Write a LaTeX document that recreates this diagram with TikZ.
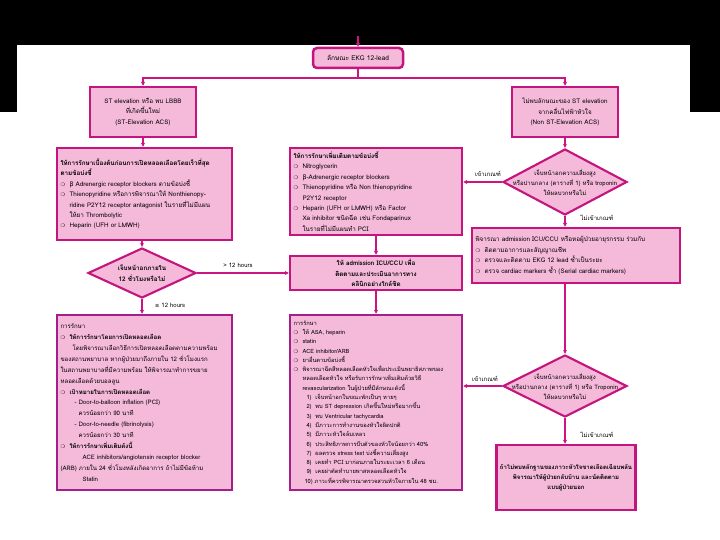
\documentclass[tikz,border=0pt]{standalone}
\usepackage{fontspec}
\setmainfont{Loma}[Script=Thai]
\newfontfamily\symf{DejaVu Sans}
\usetikzlibrary{shapes.geometric,arrows.meta}
\definecolor{boxfill}{HTML}{F5B9DA}
\definecolor{boxline}{HTML}{C4147E}
\definecolor{bigline}{HTML}{A3208A}
\definecolor{linec}{HTML}{CC1580}
\newcommand{\bul}{\makebox[9pt][l]{\symf\fontsize{5}{5}\selectfont ❍}}
\newcommand{\ind}{\hspace*{9pt}}
\newcommand{\fsA}{\fontsize{6.3}{10.4}\selectfont}
\newcommand{\fsD}{\fontsize{6}{10}\selectfont}
\newcommand{\fsB}{\fontsize{5.75}{9.3}\selectfont}
\tikzset{
 box/.style={draw=boxline, line width=2.5pt, fill=boxfill, inner xsep=3.5pt, inner ysep=2pt},
 cbox/.style={box, align=center, font=\fsA},
 lbox/.style={box, align=left},
 dia/.style={diamond, draw=boxline, line width=2.1pt, fill=boxfill, inner sep=0pt},
 conn/.style={draw=linec, line width=1.5pt, -{Stealth[length=4pt,width=4pt]}},
 plain/.style={draw=linec, line width=1.5pt},
 lab/.style={font=\fsD, inner sep=1pt},
}
\begin{document}
\begin{tikzpicture}[x=1pt,y=-1pt]
\useasboundingbox (0,0) rectangle (720,540);
\fill[white] (0,0) rectangle (720,540);
\fill[black] (0,0) rectangle (720,45);
\fill[black] (0,45) rectangle (17,112);
\fill[black] (690,45) rectangle (720,112);

% top
\node[box, rounded corners=4pt, minimum width=90, minimum height=20, font=\fontsize{6.6}{8}\selectfont] (top) at (358,58) {ลักษณะ EKG 12-lead};
\coordinate (topin) at (358,36);
\draw[conn] (topin) -- (top.north);

\node[cbox, minimum width=106, minimum height=50] (st) at (143,112) {ST elevation หรือ พบ LBBB\\ที่เกิดขึ้นใหม่\\(ST-Elevation ACS)};
\node[cbox, minimum width=106, minimum height=50] (nst) at (565,112) {ไม่พบลักษณะของ ST elevation\\จากคลื่นไฟฟ้าหัวใจ\\(Non ST-Elevation ACS)};
\coordinate (split) at (358,78);
\draw[plain] (top.south) -- (split);
\draw[conn] (split) -| (st.north);
\draw[conn] (split) -| (nst.north);

% left column
\node[lbox, font=\fsA, minimum width=175, minimum height=92, text width=168] (tx1) at (144.5,194) {%
\textbf{ให้การรักษาเบื้องต้นก่อนการเปิดหลอดเลือดโดยเร็วที่สุด}\\
\textbf{ตามข้อบ่งชี้}\\
\bul{\symf β} Adrenergic receptor blockers ตามข้อบ่งชี้\\
\bul Thienopyridine หรือการพิจารณาให้ Nonthienopy-\\
\ind ridine P2Y12 receptor antagonist ในรายที่ไม่มีแผน\\
\ind ให้ยา Thrombolytic\\
\bul Heparin (UFH or LMWH)};
\draw[conn] (st.south) -- (st.south |- tx1.north);

\node[dia, minimum width=108, minimum height=50] (d1) at (142,273) {};
\node[font=\fsA\bfseries, align=center, inner sep=0pt] (d1t) at (d1) {เจ็บหน้าอกภายใน\\12 ชั่วโมงหรือไม่};
\draw[conn] (tx1.south -| d1.north) -- (d1.north);

\node[lbox, draw=bigline, font=\fontsize{6.1}{10.9}\selectfont, minimum width=175, minimum height=175, text width=168] (tx2) at (144.5,402.5) {%
การรักษา\\
\bul\textbf{ให้การรักษาโดยการเปิดหลอดเลือด}\\
\hspace*{12pt}โดยพิจารณาเลือกวิธีการเปิดหลอดเลือดตามความพร้อม\\
ของสถานพยาบาล หากผู้ป่วยมาถึงภายใน 12 ชั่วโมงแรก\\
ในสถานพยาบาลที่มีความพร้อม ให้พิจารณาทำการขยาย\\
หลอดเลือดด้วยบอลลูน\\
\bul\textbf{เป้าหมายในการเปิดหลอดเลือด}\\
\hspace*{14pt}- Door-to-balloon inflation (PCI)\\
\hspace*{18pt}ควรน้อยกว่า 90 นาที\\
\hspace*{14pt}- Door-to-needle (fibrinolysis)\\
\hspace*{18pt}ควรน้อยกว่า 30 นาที\\
\bul\textbf{ให้การรักษาเพิ่มเติมดังนี้}\\
\hspace*{22pt}ACE inhibitors/angiotensin receptor blocker\\
(ARB) ภายใน 24 ชั่วโมงหลังเกิดอาการ ถ้าไม่มีข้อห้าม\\
\hspace*{22pt}Statin};
\draw[conn] (d1.south) -- (d1.south |- tx2.north);
\node[lab] (l12b) at (170,305) {{\symf\fontsize{5.5}{6}\selectfont ≤} 12 hours};

% middle column
\node[lbox, font=\fsA, minimum width=172, minimum height=87, text width=165] (m1) at (376,191.5) {%
\textbf{ให้การรักษาเพิ่มเติมตามข้อบ่งชี้}\\
\bul Nitroglycerin\\
\bul{\symf β}-Adrenergic receptor blockers\\
\bul Thienopyridine หรือ Non thienopyridine\\
\ind P2Y12 receptor\\
\bul Heparin (UFH or LMWH) หรือ Factor\\
\ind Xa inhibitor ชนิดฉีด เช่น Fondaparinux\\
\ind ในรายที่ไม่มีแผนทำ PCI};

\node[cbox, font=\fsA\bfseries, minimum width=172, minimum height=34] (adm) at (376,273) {ให้ admission ICU/CCU เพื่อ\\ติดตามและประเมินอาการทาง\\คลินิกอย่างใกล้ชิด};
\draw[conn] (m1.south) -- (adm.north);
\draw[conn] (d1.east) -- (adm.west);
\node[lab] (l12a) at (238,265) {> 12 hours};

\node[lbox, draw=bigline, font=\fsB, minimum width=172, minimum height=175, text width=165] (m3) at (376,402.5) {%
การรักษา\\
\bul ให้ ASA, heparin\\
\bul statin\\
\bul ACE inhibitor/ARB\\
\bul ยาอื่นตามข้อบ่งชี้\\
\bul พิจารณาฉีดสีหลอดเลือดหัวใจเพื่อประเมินพยาธิสภาพของ\\
\ind หลอดเลือดหัวใจ หรือรับการรักษาเพิ่มเติมด้วยวิธี\\
\ind revascularization ในผู้ป่วยที่มีลักษณะดังนี้\\
\hspace*{13pt}1)\ \ เจ็บหน้าอกในขณะพักเป็นๆ หายๆ\\
\hspace*{13pt}2)\ \ พบ ST depression เกิดขึ้นใหม่หรือมากขึ้น\\
\hspace*{13pt}3)\ \ พบ Ventricular tachycardia\\
\hspace*{13pt}4)\ \ มีภาวะการทำงานของหัวใจผิดปกติ\\
\hspace*{13pt}5)\ \ มีภาวะหัวใจล้มเหลว\\
\hspace*{13pt}6)\ \ ประสิทธิภาพการบีบตัวของหัวใจน้อยกว่า 40\%\\
\hspace*{13pt}7)\ \ ผลตรวจ stress test บ่งชี้ความเสี่ยงสูง\\
\hspace*{13pt}8)\ \ เคยทำ PCI มาก่อนภายในระยะเวลา 6 เดือน\\
\hspace*{13pt}9)\ \ เคยผ่าตัดทำบายพาสหลอดเลือดหัวใจ\\
\hspace*{11pt}10) ภาวะที่ควรพิจารณาตรวจสวนหัวใจภายใน 48 ชม.};
\draw[conn] (adm.south) -- (m3.north);

% right column
\node[dia, minimum width=124, minimum height=66] (d2) at (565,182) {};
\node[font=\fsD, align=center, inner sep=0pt] (d2t) at (d2) {เจ็บหน้าอกความเสี่ยงสูง\\หรือปานกลาง (ตารางที่ 1) หรือ troponin\\ให้ผลบวกหรือไม่};
\draw[conn] (nst.south) -- (d2.north);
\draw[conn] (d2.west) -- (d2.west -| m1.east);
\node[lab] (lin1) at (488,174) {เข้าเกณฑ์};

\node[lbox, font=\fsA, minimum width=208, minimum height=55, text width=201] (r3) at (576,255.5) {%
พิจารณา admission ICU/CCU หรือหอผู้ป่วยอายุรกรรม ร่วมกับ\\
\bul ติดตามอาการและสัญญาณชีพ\\
\bul ตรวจและติดตาม EKG 12 lead ซ้ำเป็นระยะ\\
\bul ตรวจ cardiac markers ซ้ำ (Serial cardiac markers)};
\draw[conn] (d2.south) -- (d2.south |- r3.north);
\node[lab] (lout1) at (597,218) {ไม่เข้าเกณฑ์};

\node[dia, minimum width=124, minimum height=62] (d3) at (565,386) {};
\node[font=\fsD, align=center, inner sep=0pt] (d3t) at (d3) {เจ็บหน้าอกความเสี่ยงสูง\\หรือปานกลาง (ตารางที่ 1) หรือ Troponin\\ให้ผลบวกหรือไม่};
\draw[conn] (d3.north |- r3.south) -- (d3.north);
\draw[conn] (d3.west) -- (d3.west -| m3.east);
\node[lab] (lin2) at (485,379) {เข้าเกณฑ์};

\node[cbox, font=\fsD\bfseries, minimum width=138, minimum height=65] (r4) at (566,477.5) {ถ้าไม่พบหลักฐานของภาวะหัวใจขาดเลือดเฉียบพลัน\\พิจารณาให้ผู้ป่วยกลับบ้าน และนัดติดตาม\\แบบผู้ป่วยนอก};
\draw[conn] (d3.south) -- (d3.south |- r4.north);
\node[lab] (lout2) at (597,435) {ไม่เข้าเกณฑ์};
\end{tikzpicture}
\end{document}
